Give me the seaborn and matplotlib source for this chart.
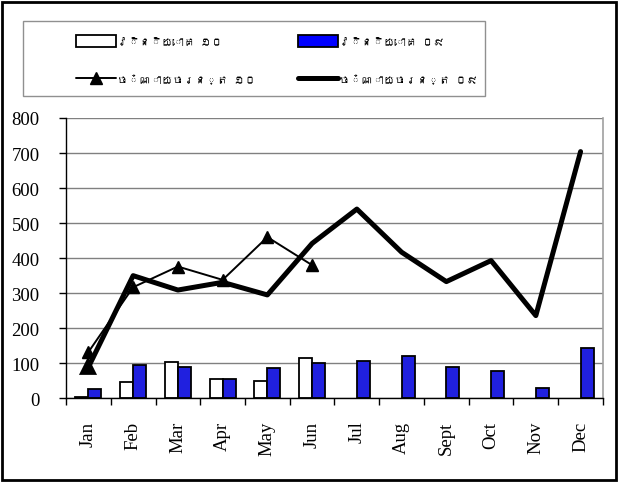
import pandas as pd
import numpy as np
import matplotlib
matplotlib.use("Agg")
import matplotlib.pyplot as plt
import seaborn as sns
from matplotlib import font_manager
from matplotlib.ft2font import FT2Font
from matplotlib.patches import Patch, Rectangle
from matplotlib.lines import Line2D
from matplotlib.ticker import FixedLocator

#chart data
months = ["Jan", "Feb", "Mar", "Apr", "May", "Jun", "Jul", "Aug", "Sept", "Oct", "Nov", "Dec"]
invest_10 = [3, 47, 103, 55, 49, 116]
invest_09 = [27, 95, 88, 55, 86, 100, 107, 120, 89, 77, 30, 143]
current_10 = [132, 317, 376, 338, 460, 380]
current_09 = [89, 350, 309, 331, 295, 442, 540, 417, 333, 393, 236, 704]
y_ticks = [0, 100, 200, 300, 400, 500, 600, 700, 800]

label_inv10 = "វិនិយោគ ១០"
label_inv09 = "វិនិយោគ ០៩"
label_cur10 = "ចំណាយចរន្ត ១០"
label_cur09 = "ចំណាយចរន្ត ០៩"


#look for any installed font that has khmer letters
def find_khmer_font():
    for path in font_manager.findSystemFonts():
        try:
            if 0x179C in FT2Font(path).get_charmap():
                return font_manager.FontProperties(fname=path).get_name()
        except Exception:
            pass
    return None


sns.set_theme(style="white")
plt.rcParams["font.family"] = ["Liberation Serif", "DejaVu Serif"]
plt.rcParams["text.color"] = "black"
plt.rcParams["xtick.color"] = "black"
plt.rcParams["ytick.color"] = "black"
khmer_font = find_khmer_font()
legend_family = [khmer_font, "DejaVu Sans"] if khmer_font else ["DejaVu Sans"]

#long form table for the bars
bars_df = pd.DataFrame({
    "month": months[:len(invest_10)] + months,
    "series": [label_inv10] * len(invest_10) + [label_inv09] * len(invest_09),
    "value": invest_10 + invest_09,
})

fig = plt.figure(figsize=(6.2, 4.85), dpi=100)
ax = fig.add_axes([0.1065, 0.1767, 0.866, 0.578])

sns.barplot(data=bars_df, x="month", y="value", hue="series", order=months,
            hue_order=[label_inv10, label_inv09], palette=["white", "#0000FF"],
            width=0.58, edgecolor="black", linewidth=1.3, legend=False, ax=ax)

sns.pointplot(x=months[:len(current_10)], y=current_10, order=months, color="black",
              markers="^", markersize=9, linewidth=1.4, errorbar=None, ax=ax)
sns.pointplot(x=months, y=current_09, order=months, color="black",
              markers="^", markersize=9, markevery=[0], linewidth=3.6,
              errorbar=None, ax=ax)

ax.set_xlim(-0.5, len(months) - 0.5)
ax.set_ylim(0, 800)
ax.set_yticks(y_ticks)
ax.set_xlabel("")
ax.set_ylabel("")
ax.yaxis.grid(True, color="#808080", linewidth=1.0)
ax.set_axisbelow(True)

#ticks between the months, labels in the middle
ax.xaxis.set_minor_locator(FixedLocator(np.arange(-0.5, len(months), 1.0)))
ax.tick_params(axis="x", which="minor", length=5, width=1, color="black", direction="out", bottom=True)
ax.tick_params(axis="x", which="major", length=0, pad=16, labelsize=13.5, labelrotation=90)
ax.tick_params(axis="y", length=5, width=1, color="black", direction="out", left=True, pad=14, labelsize=13.5)

for side in ["left", "bottom"]:
    ax.spines[side].set_color("black")
    ax.spines[side].set_linewidth(1.0)
ax.spines["right"].set_color("#A0A0A0")
ax.spines["right"].set_linewidth(1.2)
ax.spines["top"].set_visible(False)

#legend: grey box with two columns
fig.patches.append(Rectangle((23 / 620, 1 - 97 / 485), 462 / 620, 75 / 485,
                             transform=fig.transFigure, facecolor="white",
                             edgecolor="#909090", linewidth=1.0))
col1 = [Patch(facecolor="white", edgecolor="black", linewidth=1.3, label=label_inv10),
        Line2D([], [], color="black", linewidth=1.4, marker="^", markersize=9, label=label_cur10)]
col2 = [Patch(facecolor="#0000FF", edgecolor="black", linewidth=1.3, label=label_inv09),
        Line2D([], [], color="black", linewidth=3.6, label=label_cur09)]
leg_font = font_manager.FontProperties(family=legend_family, size=8)
leg_opts = dict(loc="upper left", frameon=False, prop=leg_font, handlelength=3.6,
                handleheight=1.25, handletextpad=0.1, labelspacing=2.35,
                borderaxespad=0, borderpad=0)
leg1 = fig.legend(handles=col1, bbox_to_anchor=(76 / 620, 1 - 36 / 485), **leg_opts)
leg2 = fig.legend(handles=col2, bbox_to_anchor=(298 / 620, 1 - 36 / 485), **leg_opts)

#outer black frame round the whole picture
fig.patches.append(Rectangle((2 / 620, 4 / 485), 614 / 620, 478 / 485,
                             transform=fig.transFigure, fill=False,
                             edgecolor="black", linewidth=2.0))

fig.savefig("out.png", dpi=100)
